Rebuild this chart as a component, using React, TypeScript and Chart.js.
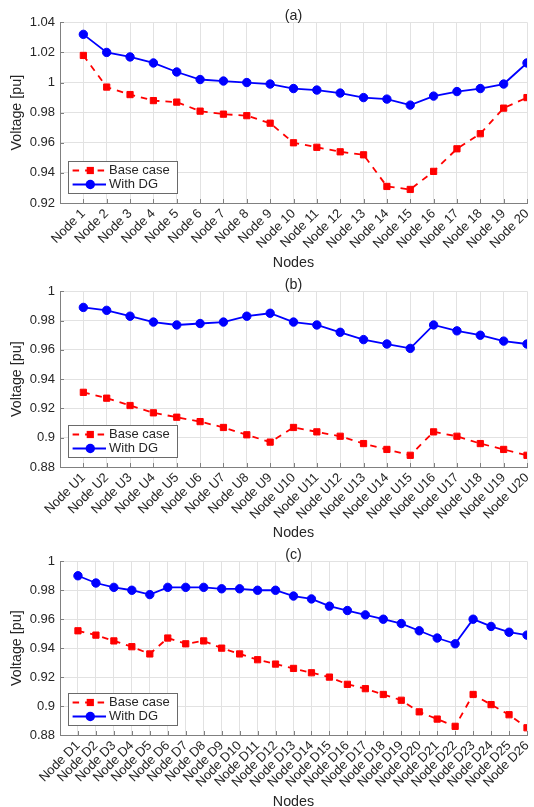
import { useEffect, useRef } from 'react';
import { Chart, registerables } from 'chart.js';

Chart.register(...registerables);

// Feeder (a)
const nodesA = ['Node 1', 'Node 2', 'Node 3', 'Node 4', 'Node 5', 'Node 6', 'Node 7', 'Node 8', 'Node 9', 'Node 10',
  'Node 11', 'Node 12', 'Node 13', 'Node 14', 'Node 15', 'Node 16', 'Node 17', 'Node 18', 'Node 19', 'Node 20'];
const baseA = [1.018, 0.997, 0.992, 0.988, 0.987, 0.981, 0.979, 0.978, 0.973, 0.960,
  0.957, 0.954, 0.952, 0.931, 0.929, 0.941, 0.956, 0.966, 0.983, 0.990];
const dgA = [1.032, 1.020, 1.017, 1.013, 1.007, 1.002, 1.001, 1.000, 0.999, 0.996,
  0.995, 0.993, 0.990, 0.989, 0.985, 0.991, 0.994, 0.996, 0.999, 1.013];

// Feeder (b)
const nodesB = ['Node U1', 'Node U2', 'Node U3', 'Node U4', 'Node U5', 'Node U6', 'Node U7', 'Node U8', 'Node U9', 'Node U10',
  'Node U11', 'Node U12', 'Node U13', 'Node U14', 'Node U15', 'Node U16', 'Node U17', 'Node U18', 'Node U19', 'Node U20'];
const baseB = [0.931, 0.927, 0.922, 0.917, 0.914, 0.911, 0.907, 0.902, 0.897, 0.907,
  0.904, 0.901, 0.896, 0.892, 0.888, 0.904, 0.901, 0.896, 0.892, 0.888];
const dgB = [0.989, 0.987, 0.983, 0.979, 0.977, 0.978, 0.979, 0.983, 0.985, 0.979,
  0.977, 0.972, 0.967, 0.964, 0.961, 0.977, 0.973, 0.970, 0.966, 0.964];

// Feeder (c)
const nodesC = ['Node D1', 'Node D2', 'Node D3', 'Node D4', 'Node D5', 'Node D6', 'Node D7', 'Node D8', 'Node D9', 'Node D10',
  'Node D11', 'Node D12', 'Node D13', 'Node D14', 'Node D15', 'Node D16', 'Node D17', 'Node D18', 'Node D19', 'Node D20',
  'Node D21', 'Node D22', 'Node D23', 'Node D24', 'Node D25', 'Node D26'];
const baseC = [0.952, 0.949, 0.945, 0.941, 0.936, 0.947, 0.943, 0.945, 0.940, 0.936,
  0.932, 0.929, 0.926, 0.923, 0.920, 0.915, 0.912, 0.908, 0.904, 0.896,
  0.891, 0.886, 0.908, 0.901, 0.894, 0.885];
const dgC = [0.990, 0.985, 0.982, 0.980, 0.977, 0.982, 0.982, 0.982, 0.981, 0.981,
  0.980, 0.980, 0.976, 0.974, 0.969, 0.966, 0.963, 0.960, 0.957, 0.952,
  0.947, 0.943, 0.960, 0.955, 0.951, 0.949];

const yTicksA = [0.92, 0.94, 0.96, 0.98, 1, 1.02, 1.04];
const yTicksBC = [0.88, 0.9, 0.92, 0.94, 0.96, 0.98, 1];

const seriesNames = ['Base case', 'With DG'];
const yTitle = 'Voltage [pu]';
const xTitle = 'Nodes';

const FONT = "'Liberation Sans', Arial, Helvetica, sans-serif";
const TEXT = '#262626';
const AXIS = '#808080';
const GRID = '#e2e2e2';
const RED = '#ff0000';
const BLUE = '#0000ff';
const W = 534;
const PLOT_LEFT = 60;
const RIGHT_PAD = 7;
const DASH = [6.5, 6];
const LINE_W = 1.8;

type PanelProps = {
  top: number;
  height: number;
  plotTop: number;
  plotBottom: number;
  xTitleY: number;
  title: string;
  nodes: string[];
  base: number[];
  withDg: number[];
  yTicks: number[];
};

function fmt(v: number): string {
  return String(Number(v.toFixed(2)));
}

function Panel(p: PanelProps) {
  const ref = useRef<HTMLCanvasElement | null>(null);

  useEffect(() => {
    const canvas = ref.current;
    if (!canvas) return;
    const n = p.nodes.length;

    const decor = {
      id: 'panelDecor',
      afterDraw(chart: any) {
        const { ctx, chartArea: a } = chart;
        const xs = chart.scales.x;
        const ys = chart.scales.y;
        ctx.save();

        // inward tick marks
        ctx.strokeStyle = AXIS;
        ctx.lineWidth = 1;
        ctx.beginPath();
        for (let i = 1; i <= n; i++) {
          const x = Math.round(xs.getPixelForValue(i)) + 0.5;
          ctx.moveTo(x, a.bottom);
          ctx.lineTo(x, a.bottom - 4);
        }
        for (const t of p.yTicks) {
          const y = Math.round(ys.getPixelForValue(t)) + 0.5;
          ctx.moveTo(a.left, y);
          ctx.lineTo(a.left + 4, y);
        }
        ctx.stroke();

        // panel title and axis titles
        ctx.fillStyle = TEXT;
        ctx.font = `14.3px ${FONT}`;
        ctx.textAlign = 'center';
        ctx.textBaseline = 'middle';
        ctx.fillText(p.title, (a.left + a.right) / 2, a.top - 6);
        ctx.fillText(xTitle, (a.left + a.right) / 2, p.xTitleY);
        ctx.save();
        ctx.translate(17, (a.top + a.bottom) / 2);
        ctx.rotate(-Math.PI / 2);
        ctx.fillText(yTitle, 0, 0);
        ctx.restore();

        // legend
        const lw = 109;
        const lh = 32;
        const lx = Math.round(a.left + 8);
        const ly = Math.round(a.bottom - 10 - lh);
        ctx.fillStyle = '#ffffff';
        ctx.fillRect(lx, ly, lw, lh);
        ctx.strokeStyle = '#6a6a6a';
        ctx.lineWidth = 1;
        ctx.strokeRect(lx + 0.5, ly + 0.5, lw, lh);

        const rows = [ly + 9.5, ly + 23.5];
        const x0 = lx + 4.6;
        const x1 = lx + 38;
        const mx = lx + 22.3;

        // Base case sample
        ctx.strokeStyle = RED;
        ctx.lineWidth = LINE_W;
        ctx.setLineDash(DASH);
        ctx.beginPath();
        ctx.moveTo(x0, rows[0]);
        ctx.lineTo(x1, rows[0]);
        ctx.stroke();
        ctx.setLineDash([]);
        ctx.fillStyle = RED;
        ctx.fillRect(mx - 3.6, rows[0] - 3.6, 7.2, 7.2);

        // With DG sample
        ctx.strokeStyle = BLUE;
        ctx.beginPath();
        ctx.moveTo(x0, rows[1]);
        ctx.lineTo(x1, rows[1]);
        ctx.stroke();
        ctx.fillStyle = BLUE;
        ctx.beginPath();
        ctx.arc(mx, rows[1], 4.7, 0, Math.PI * 2);
        ctx.fill();

        ctx.fillStyle = TEXT;
        ctx.font = `13px ${FONT}`;
        ctx.textAlign = 'left';
        ctx.textBaseline = 'middle';
        ctx.fillText(seriesNames[0], lx + 41, rows[0]);
        ctx.fillText(seriesNames[1], lx + 41, rows[1]);
        ctx.restore();
      },
    };

    const chart = new Chart(canvas, {
      type: 'line',
      data: {
        datasets: [
          {
            label: seriesNames[0],
            data: p.base.map((v, i) => ({ x: i + 1, y: v })),
            borderColor: RED,
            backgroundColor: RED,
            borderWidth: LINE_W,
            borderDash: DASH,
            pointStyle: 'rect',
            pointRadius: 4.4,
            pointBorderWidth: 1,
            pointBackgroundColor: RED,
            pointBorderColor: RED,
            tension: 0,
          },
          {
            label: seriesNames[1],
            data: p.withDg.map((v, i) => ({ x: i + 1, y: v })),
            borderColor: BLUE,
            backgroundColor: BLUE,
            borderWidth: LINE_W,
            pointStyle: 'circle',
            pointRadius: 4.2,
            pointBorderWidth: 1,
            pointBackgroundColor: BLUE,
            pointBorderColor: BLUE,
            tension: 0,
          },
        ],
      },
      options: {
        responsive: false,
        animation: false,
        devicePixelRatio: 1,
        layout: { padding: { top: p.plotTop, right: RIGHT_PAD, left: 0, bottom: 0 } },
        plugins: {
          legend: { display: false },
          title: { display: false },
          tooltip: { enabled: false },
        },
        scales: {
          x: {
            type: 'linear',
            min: 0,
            max: n,
            afterBuildTicks: (s: any) => {
              s.ticks = Array.from({ length: n + 1 }, (_, i) => ({ value: i }));
            },
            afterFit: (s: any) => {
              s.height = p.height - p.plotBottom;
              s.paddingLeft = 0;
              s.paddingRight = 0;
            },
            ticks: {
              autoSkip: false,
              minRotation: 45,
              maxRotation: 45,
              padding: 3,
              color: TEXT,
              font: { family: FONT, size: 13 },
              callback: (v: any) => (v >= 1 && v <= n ? p.nodes[v - 1] : ''),
            },
            grid: { color: GRID, lineWidth: 1, drawTicks: false },
            border: { display: true, color: AXIS, width: 1 },
          },
          y: {
            type: 'linear',
            min: p.yTicks[0],
            max: p.yTicks[p.yTicks.length - 1],
            afterBuildTicks: (s: any) => {
              s.ticks = p.yTicks.map((v) => ({ value: v }));
            },
            afterFit: (s: any) => {
              s.width = PLOT_LEFT;
              s.paddingTop = 0;
              s.paddingBottom = 0;
            },
            ticks: {
              padding: 5,
              color: TEXT,
              font: { family: FONT, size: 13 },
              callback: (v: any) => fmt(Number(v)),
            },
            grid: { color: GRID, lineWidth: 1, drawTicks: false },
            border: { display: true, color: AXIS, width: 1 },
          },
        },
      },
      plugins: [decor],
    } as any);

    return () => chart.destroy();
  }, [p]);

  return (
    <canvas
      ref={ref}
      width={W}
      height={p.height}
      style={{ position: 'absolute', left: 0, top: p.top, width: W, height: p.height }}
    />
  );
}

const panels: PanelProps[] = [
  { top: 0, height: 270, plotTop: 22.3, plotBottom: 203, xTitleY: 263.3, title: '(a)', nodes: nodesA, base: baseA, withDg: dgA, yTicks: yTicksA },
  { top: 270, height: 270, plotTop: 21.3, plotBottom: 197, xTitleY: 263.3, title: '(b)', nodes: nodesB, base: baseB, withDg: dgB, yTicks: yTicksBC },
  { top: 540, height: 267, plotTop: 21.3, plotBottom: 195, xTitleY: 261.7, title: '(c)', nodes: nodesC, base: baseC, withDg: dgC, yTicks: yTicksBC },
];

export default function App() {
  return (
    <div style={{ position: 'fixed', left: 0, top: 0, width: W, height: 807, background: '#ffffff' }}>
      {panels.map((p) => (
        <Panel key={p.title} {...p} />
      ))}
    </div>
  );
}
